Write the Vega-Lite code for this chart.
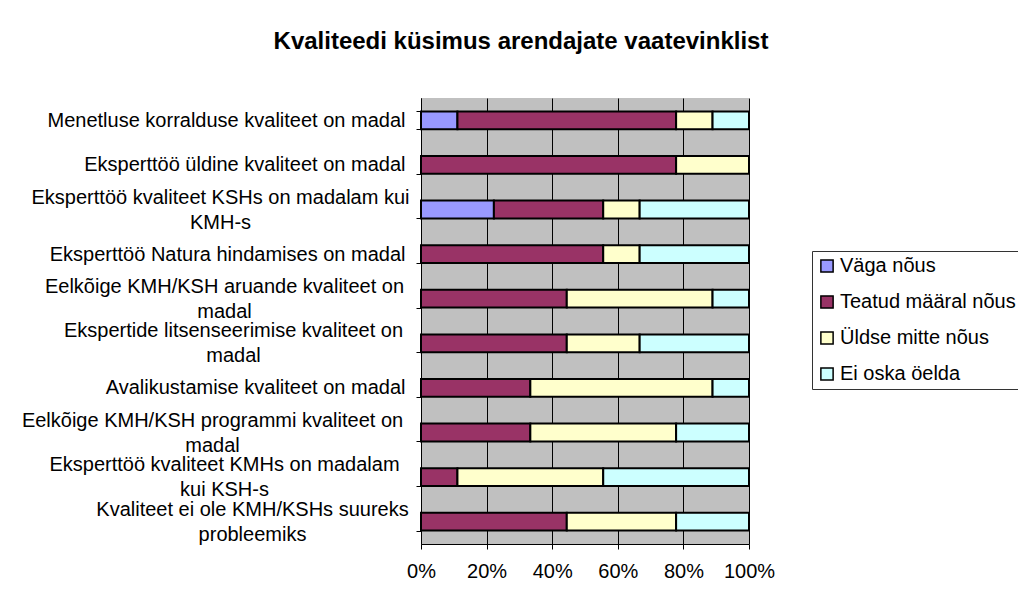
{
  "$schema": "https://vega.github.io/schema/vega-lite/v6.json",
  "width": 328,
  "height": 446,
  "autosize": {"type": "none"},
  "padding": {"left": 421, "top": 98, "right": 269, "bottom": 69},
  "background": "white",
  "title": {
    "text": "Kvaliteedi küsimus arendajate vaatevinklist",
    "font": "Liberation Sans",
    "fontSize": 24,
    "fontWeight": "bold",
    "color": "black",
    "anchor": "middle",
    "frame": "group",
    "dx": -64,
    "baseline": "alphabetic",
    "offset": 15
  },
  "data": {
    "values": [
      {"question": "Menetluse korralduse kvaliteet on madal", "answer": "Väga nõus", "answer_order": 1, "count": 1},
      {"question": "Menetluse korralduse kvaliteet on madal", "answer": "Teatud määral nõus", "answer_order": 2, "count": 6},
      {"question": "Menetluse korralduse kvaliteet on madal", "answer": "Üldse mitte nõus", "answer_order": 3, "count": 1},
      {"question": "Menetluse korralduse kvaliteet on madal", "answer": "Ei oska öelda", "answer_order": 4, "count": 1},
      {"question": "Eksperttöö üldine kvaliteet on madal", "answer": "Teatud määral nõus", "answer_order": 2, "count": 7},
      {"question": "Eksperttöö üldine kvaliteet on madal", "answer": "Üldse mitte nõus", "answer_order": 3, "count": 2},
      {"question": "Eksperttöö kvaliteet KSHs on madalam kui KMH-s", "answer": "Väga nõus", "answer_order": 1, "count": 2},
      {"question": "Eksperttöö kvaliteet KSHs on madalam kui KMH-s", "answer": "Teatud määral nõus", "answer_order": 2, "count": 3},
      {"question": "Eksperttöö kvaliteet KSHs on madalam kui KMH-s", "answer": "Üldse mitte nõus", "answer_order": 3, "count": 1},
      {"question": "Eksperttöö kvaliteet KSHs on madalam kui KMH-s", "answer": "Ei oska öelda", "answer_order": 4, "count": 3},
      {"question": "Eksperttöö Natura hindamises on madal", "answer": "Teatud määral nõus", "answer_order": 2, "count": 5},
      {"question": "Eksperttöö Natura hindamises on madal", "answer": "Üldse mitte nõus", "answer_order": 3, "count": 1},
      {"question": "Eksperttöö Natura hindamises on madal", "answer": "Ei oska öelda", "answer_order": 4, "count": 3},
      {"question": "Eelkõige KMH/KSH aruande kvaliteet on madal", "answer": "Teatud määral nõus", "answer_order": 2, "count": 4},
      {"question": "Eelkõige KMH/KSH aruande kvaliteet on madal", "answer": "Üldse mitte nõus", "answer_order": 3, "count": 4},
      {"question": "Eelkõige KMH/KSH aruande kvaliteet on madal", "answer": "Ei oska öelda", "answer_order": 4, "count": 1},
      {"question": "Ekspertide litsenseerimise kvaliteet on madal", "answer": "Teatud määral nõus", "answer_order": 2, "count": 4},
      {"question": "Ekspertide litsenseerimise kvaliteet on madal", "answer": "Üldse mitte nõus", "answer_order": 3, "count": 2},
      {"question": "Ekspertide litsenseerimise kvaliteet on madal", "answer": "Ei oska öelda", "answer_order": 4, "count": 3},
      {"question": "Avalikustamise kvaliteet on madal", "answer": "Teatud määral nõus", "answer_order": 2, "count": 3},
      {"question": "Avalikustamise kvaliteet on madal", "answer": "Üldse mitte nõus", "answer_order": 3, "count": 5},
      {"question": "Avalikustamise kvaliteet on madal", "answer": "Ei oska öelda", "answer_order": 4, "count": 1},
      {"question": "Eelkõige KMH/KSH programmi kvaliteet on madal", "answer": "Teatud määral nõus", "answer_order": 2, "count": 3},
      {"question": "Eelkõige KMH/KSH programmi kvaliteet on madal", "answer": "Üldse mitte nõus", "answer_order": 3, "count": 4},
      {"question": "Eelkõige KMH/KSH programmi kvaliteet on madal", "answer": "Ei oska öelda", "answer_order": 4, "count": 2},
      {"question": "Eksperttöö kvaliteet KMHs on madalam kui KSH-s", "answer": "Teatud määral nõus", "answer_order": 2, "count": 1},
      {"question": "Eksperttöö kvaliteet KMHs on madalam kui KSH-s", "answer": "Üldse mitte nõus", "answer_order": 3, "count": 4},
      {"question": "Eksperttöö kvaliteet KMHs on madalam kui KSH-s", "answer": "Ei oska öelda", "answer_order": 4, "count": 4},
      {"question": "Kvaliteet ei ole KMH/KSHs suureks probleemiks", "answer": "Teatud määral nõus", "answer_order": 2, "count": 4},
      {"question": "Kvaliteet ei ole KMH/KSHs suureks probleemiks", "answer": "Üldse mitte nõus", "answer_order": 3, "count": 3},
      {"question": "Kvaliteet ei ole KMH/KSHs suureks probleemiks", "answer": "Ei oska öelda", "answer_order": 4, "count": 2}
    ]
  },
  "mark": {"type": "bar", "stroke": "black", "strokeWidth": 2},
  "encoding": {
    "y": {
      "field": "question",
      "type": "nominal",
      "sort": null,
      "scale": {"paddingInner": 0.6, "paddingOuter": 0.3},
      "axis": {
        "title": null,
        "grid": false,
        "domainColor": "black",
        "domainWidth": 1,
        "tickColor": "black",
        "tickSize": 5,
        "tickBand": "extent",
        "labelFont": "Liberation Sans",
        "labelFontSize": 20,
        "labelColor": "black",
        "labelLimit": 600,
        "labelLineHeight": 25,
        "labelBaseline": "middle",
        "labelAlign": {
          "condition": {"test": "indexof(['Eksperttöö kvaliteet KSHs on madalam kui KMH-s', 'Eelkõige KMH/KSH aruande kvaliteet on madal', 'Ekspertide litsenseerimise kvaliteet on madal', 'Eelkõige KMH/KSH programmi kvaliteet on madal', 'Eksperttöö kvaliteet KMHs on madalam kui KSH-s', 'Kvaliteet ei ole KMH/KSHs suureks probleemiks'], datum.value) >= 0", "value": "center"},
          "value": "right"
        },
        "labelOffset": {"expr": "indexof(['Eksperttöö kvaliteet KSHs on madalam kui KMH-s', 'Eelkõige KMH/KSH aruande kvaliteet on madal', 'Ekspertide litsenseerimise kvaliteet on madal', 'Eelkõige KMH/KSH programmi kvaliteet on madal', 'Eksperttöö kvaliteet KMHs on madalam kui KSH-s', 'Kvaliteet ei ole KMH/KSHs suureks probleemiks'], datum.value) >= 0 ? -12.5 : 0"},
        "labelPadding": {"expr": "datum.value == 'Eksperttöö kvaliteet KSHs on madalam kui KMH-s' ? 196 : datum.value == 'Eelkõige KMH/KSH aruande kvaliteet on madal' ? 192 : datum.value == 'Ekspertide litsenseerimise kvaliteet on madal' ? 183 : datum.value == 'Eelkõige KMH/KSH programmi kvaliteet on madal' ? 204 : datum.value == 'Eksperttöö kvaliteet KMHs on madalam kui KSH-s' ? 192 : datum.value == 'Kvaliteet ei ole KMH/KSHs suureks probleemiks' ? 164 : 11"},
        "labelExpr": "datum.value == 'Eksperttöö kvaliteet KSHs on madalam kui KMH-s' ? ['Eksperttöö kvaliteet KSHs on madalam kui', 'KMH-s'] : datum.value == 'Eelkõige KMH/KSH aruande kvaliteet on madal' ? ['Eelkõige KMH/KSH aruande kvaliteet on', 'madal'] : datum.value == 'Ekspertide litsenseerimise kvaliteet on madal' ? ['Ekspertide litsenseerimise kvaliteet on', 'madal'] : datum.value == 'Eelkõige KMH/KSH programmi kvaliteet on madal' ? ['Eelkõige KMH/KSH programmi kvaliteet on', 'madal'] : datum.value == 'Eksperttöö kvaliteet KMHs on madalam kui KSH-s' ? ['Eksperttöö kvaliteet KMHs on madalam', 'kui KSH-s'] : datum.value == 'Kvaliteet ei ole KMH/KSHs suureks probleemiks' ? ['Kvaliteet ei ole KMH/KSHs suureks', 'probleemiks'] : datum.label"
      }
    },
    "x": {
      "field": "count",
      "type": "quantitative",
      "stack": "normalize",
      "scale": {"domain": [0, 1]},
      "axis": {
        "title": null,
        "format": ".0%",
        "values": [0, 0.2, 0.4, 0.6, 0.8, 1],
        "grid": true,
        "gridColor": "black",
        "gridWidth": 1,
        "gridOpacity": 1,
        "domainColor": "black",
        "tickColor": "black",
        "tickSize": 5,
        "labelFont": "Liberation Sans",
        "labelFontSize": 20,
        "labelColor": "black",
        "labelPadding": 12,
        "labelFlush": false
      }
    },
    "color": {
      "field": "answer",
      "type": "nominal",
      "scale": {
        "domain": ["Väga nõus", "Teatud määral nõus", "Üldse mitte nõus", "Ei oska öelda"],
        "range": ["#9999FF", "#993366", "#FFFFCC", "#CCFFFF"]
      },
      "legend": {
        "title": null,
        "orient": "none",
        "legendX": 391,
        "legendY": 153,
        "direction": "vertical",
        "fillColor": "white",
        "strokeColor": "#333333",
        "padding": 5,
        "symbolType": "square",
        "symbolSize": 150,
        "symbolStrokeColor": "black",
        "symbolStrokeWidth": 1.5,
        "symbolOpacity": 1,
        "labelFont": "Liberation Sans",
        "labelFontSize": 20,
        "labelColor": "black",
        "labelOffset": 3,
        "labelLimit": 300,
        "rowPadding": 16
      }
    },
    "order": {"field": "answer_order", "type": "quantitative"}
  },
  "config": {
    "view": {"fill": "#C0C0C0", "stroke": null},
    "font": "Liberation Sans"
  }
}
